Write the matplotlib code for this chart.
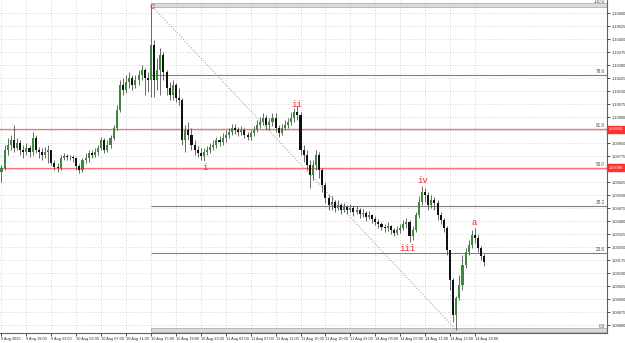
import matplotlib
matplotlib.use('Agg')
import matplotlib.pyplot as plt
from matplotlib.patches import Rectangle

# ---------------- data (EURUSD, 30-minute bars, 9 Aug 15:00 -> 14 Aug 21:30) ----------------
first_open = 1.09683
close = [1.09706, 1.09809, 1.09838, 1.09867, 1.09821, 1.09850, 1.09809, 1.09798, 1.09821, 1.09798,
         1.09879, 1.09809, 1.09798, 1.09781, 1.09798, 1.09809, 1.09734, 1.09711, 1.09706, 1.09763,
         1.09775, 1.09769, 1.09769, 1.09763, 1.09717, 1.09694, 1.09752, 1.09763, 1.09792, 1.09781,
         1.09798, 1.09821, 1.09867, 1.09809, 1.09838, 1.09879, 1.09936, 1.10040, 1.10185, 1.10156,
         1.10202, 1.10225, 1.10185, 1.10213, 1.10242, 1.10271, 1.10225, 1.10213, 1.10415, 1.10213,
         1.10271, 1.10358, 1.10260, 1.10167, 1.10127, 1.10185, 1.10110, 1.10098, 1.09867, 1.09925,
         1.09896, 1.09838, 1.09809, 1.09792, 1.09775, 1.09798, 1.09809, 1.09827, 1.09838, 1.09867,
         1.09856, 1.09879, 1.09896, 1.09913, 1.09936, 1.09925, 1.09913, 1.09925, 1.09896, 1.09885,
         1.09908, 1.09925, 1.09954, 1.09971, 1.09994, 1.09954, 1.09971, 1.09994, 1.09936, 1.09908,
         1.09936, 1.09954, 1.09971, 1.09994, 1.10029, 1.10011, 1.09809, 1.09781, 1.09723, 1.09665,
         1.09723, 1.09781, 1.09694, 1.09608, 1.09533, 1.09492, 1.09509, 1.09475, 1.09492, 1.09463,
         1.09481, 1.09463, 1.09475, 1.09452, 1.09463, 1.09440, 1.09446, 1.09423, 1.09434, 1.09411,
         1.09394, 1.09383, 1.09365, 1.09359, 1.09371, 1.09348, 1.09331, 1.09348, 1.09359, 1.09383,
         1.09394, 1.09313, 1.09348, 1.09434, 1.09509, 1.09567, 1.09550, 1.09492, 1.09521, 1.09504,
         1.09434, 1.09406, 1.09359, 1.09232, 1.09059, 1.08857, 1.08956, 1.09031, 1.09146, 1.09221,
         1.09261, 1.09319, 1.09302, 1.09244, 1.09198, 1.09163]
high = [1.09723, 1.09838, 1.09879, 1.09896, 1.09954, 1.09879, 1.09867, 1.09838, 1.09850, 1.09838,
        1.09913, 1.09896, 1.09827, 1.09821, 1.09827, 1.09838, 1.09809, 1.09752, 1.09734, 1.09781,
        1.09792, 1.09786, 1.09781, 1.09781, 1.09769, 1.09729, 1.09763, 1.09792, 1.09809, 1.09809,
        1.09821, 1.09838, 1.09885, 1.09879, 1.09867, 1.09896, 1.09954, 1.10069, 1.10213, 1.10225,
        1.10242, 1.10260, 1.10242, 1.10242, 1.10271, 1.10300, 1.10283, 1.10260, 1.10646, 1.10444,
        1.10340, 1.10398, 1.10375, 1.10271, 1.10202, 1.10213, 1.10196, 1.10167, 1.10110, 1.09954,
        1.09971, 1.09936, 1.09867, 1.09833, 1.09821, 1.09821, 1.09833, 1.09850, 1.09867, 1.09885,
        1.09890, 1.09908, 1.09925, 1.09936, 1.09960, 1.09960, 1.09942, 1.09948, 1.09936, 1.09913,
        1.09925, 1.09948, 1.09983, 1.10000, 1.10023, 1.10011, 1.09994, 1.10023, 1.10023, 1.09954,
        1.09960, 1.09983, 1.09994, 1.10029, 1.10052, 1.10063, 1.10029, 1.09838, 1.09809, 1.09752,
        1.09752, 1.09809, 1.09798, 1.09706, 1.09625, 1.09550, 1.09544, 1.09521, 1.09521, 1.09504,
        1.09504, 1.09492, 1.09498, 1.09486, 1.09486, 1.09475, 1.09469, 1.09458, 1.09458, 1.09440,
        1.09429, 1.09411, 1.09394, 1.09383, 1.09394, 1.09377, 1.09359, 1.09371, 1.09383, 1.09406,
        1.09417, 1.09406, 1.09371, 1.09452, 1.09544, 1.09602, 1.09590, 1.09567, 1.09550, 1.09538,
        1.09521, 1.09452, 1.09417, 1.09371, 1.09232, 1.09071, 1.08967, 1.09088, 1.09204, 1.09244,
        1.09290, 1.09348, 1.09359, 1.09319, 1.09256, 1.09209]
low = [1.09625, 1.09694, 1.09781, 1.09809, 1.09798, 1.09809, 1.09781, 1.09763, 1.09781, 1.09769,
       1.09781, 1.09792, 1.09763, 1.09752, 1.09763, 1.09734, 1.09723, 1.09694, 1.09683, 1.09694,
       1.09752, 1.09752, 1.09752, 1.09740, 1.09694, 1.09677, 1.09683, 1.09734, 1.09740, 1.09763,
       1.09769, 1.09781, 1.09809, 1.09792, 1.09798, 1.09821, 1.09867, 1.09925, 1.10029, 1.10127,
       1.10138, 1.10167, 1.10156, 1.10167, 1.10185, 1.10213, 1.10127, 1.10144, 1.10115, 1.10115,
       1.10156, 1.10127, 1.10213, 1.10127, 1.10098, 1.10098, 1.10086, 1.10069, 1.09838, 1.09798,
       1.09867, 1.09809, 1.09781, 1.09769, 1.09752, 1.09746, 1.09781, 1.09792, 1.09809, 1.09821,
       1.09833, 1.09838, 1.09856, 1.09879, 1.09896, 1.09902, 1.09890, 1.09896, 1.09879, 1.09867,
       1.09867, 1.09890, 1.09913, 1.09936, 1.09954, 1.09925, 1.09925, 1.09948, 1.09913, 1.09885,
       1.09896, 1.09925, 1.09936, 1.09954, 1.09971, 1.09983, 1.09781, 1.09740, 1.09694, 1.09590,
       1.09636, 1.09694, 1.09648, 1.09567, 1.09504, 1.09463, 1.09463, 1.09452, 1.09463, 1.09440,
       1.09452, 1.09440, 1.09452, 1.09429, 1.09440, 1.09417, 1.09423, 1.09400, 1.09411, 1.09388,
       1.09377, 1.09359, 1.09348, 1.09336, 1.09342, 1.09325, 1.09313, 1.09319, 1.09331, 1.09348,
       1.09359, 1.09279, 1.09290, 1.09336, 1.09417, 1.09492, 1.09509, 1.09463, 1.09475, 1.09463,
       1.09406, 1.09383, 1.09336, 1.09204, 1.09002, 1.08817, 1.08771, 1.08944, 1.09002, 1.09129,
       1.09204, 1.09244, 1.09273, 1.09221, 1.09175, 1.09140]

time_labels = ["9 Aug 2023", "9 Aug 19:00", "9 Aug 23:00", "10 Aug 03:00", "10 Aug 07:00",
               "10 Aug 11:00", "10 Aug 15:00", "10 Aug 19:00", "10 Aug 23:00", "11 Aug 03:00",
               "11 Aug 07:00", "11 Aug 11:00", "11 Aug 15:00", "11 Aug 19:00", "11 Aug 23:00",
               "14 Aug 03:00", "14 Aug 07:00", "14 Aug 11:00", "14 Aug 15:00", "14 Aug 19:00"]
bars_per_label = 8

# Fibonacci retracement anchors (bar index, price)
fib_start_bar, fib_high = 48, 1.10646
fib_end_bar, fib_low = 146, 1.08771
fib_ratios = [0.0, 0.236, 0.382, 0.5, 0.618, 0.786, 1.0]
fib_names = ["0.0", "23.6", "38.2", "50.0", "61.8", "78.6", "100.0"]
red_ratios = [0.618, 0.5]

# Elliott wave labels (text, bar index, price)
wave_labels = [("c", 48.3, 1.10640), ("i", 65.3, 1.09711), ("ii", 94.9, 1.10075),
               ("iii", 130.2, 1.09244), ("iv", 135.3, 1.09631), ("a", 151.7, 1.09394)]

# price axis labels
price_top_label = 1.10600
price_step = 0.00075
n_price_labels = 25

# ---------------- drawing ----------------
W, H = 625, 343
FONT = 'Liberation Sans'
fig = plt.figure(figsize=(W / 100, H / 100), dpi=100)
fig.patch.set_facecolor('white')
ax = fig.add_axes([0, 10 / H, 607 / W, 333 / H])
ax.set_facecolor('white')

n = len(close)
opens = [first_open] + close[:-1]
xs = list(range(n))

right_edge = 194.4
ax.set_xlim(-0.48, right_edge)
ax.set_ylim(1.08754, 1.10675)

rng = fib_high - fib_low
tag_levels = [fib_low + r * rng for r in red_ratios]

# grid / ticks (labels hidden where a red price tag covers them)
yt = [price_top_label - k * price_step for k in range(n_price_labels)]
xt = [k * bars_per_label for k in range(len(time_labels))]
ax.set_yticks(yt)
ylabels = []
for v in yt:
    covered = any(abs(v - t) < 0.0002 for t in tag_levels)
    ylabels.append("" if covered else f"{v:.5f}")
ax.set_yticklabels(ylabels, family=FONT)
ax.set_xticks(xt)
ax.set_xticklabels(time_labels, ha='left', family=FONT)
ax.grid(True, color='#c8c8c8', linestyle=(0, (1, 2)), linewidth=0.6)
ax.set_axisbelow(True)
ax.yaxis.tick_right()
ax.tick_params(axis='y', length=2.5, width=0.6, labelsize=2.9, pad=0.8, colors='#303030')
ax.tick_params(axis='x', length=2.5, width=0.6, labelsize=2.8, pad=0.6, colors='#303030')
for lab in ax.get_xticklabels():
    lab.set_horizontalalignment('left')
for s in ['left', 'top']:
    ax.spines[s].set_visible(False)
for s in ['right', 'bottom']:
    ax.spines[s].set_color('#606060')
    ax.spines[s].set_linewidth(0.8)

# fib levels
for r, name in zip(fib_ratios, fib_names):
    lvl = fib_low + r * rng
    if r in (0.0, 1.0):
        ax.add_patch(Rectangle((fib_start_bar, lvl - 0.00012), right_edge - fib_start_bar, 0.00024,
                               facecolor='#dadada', edgecolor='#b0b0b0', linewidth=0.6, zorder=2))
    else:
        ax.hlines(lvl, fib_start_bar, right_edge, color='#808080', linewidth=0.8, zorder=2)
    ax.text(right_edge - 0.6, lvl + 0.00006, name, fontsize=3.3, color='#505050', family=FONT,
            ha='right', va='bottom', zorder=6)

# red horizontal lines + price tags
for lvl in tag_levels:
    ax.axhline(lvl, color='#ff7070', linewidth=0.9, zorder=2.5)
    ax.text(1.003, lvl, f"{lvl:.5f}", transform=ax.get_yaxis_transform(), fontsize=2.9,
            color='white', ha='left', va='center', clip_on=False, family=FONT,
            bbox=dict(boxstyle='square,pad=0.35', facecolor='#ff3030', edgecolor='#ff3030'))

# fib diagonal
ax.plot([fib_start_bar, fib_end_bar], [fib_high, fib_low], color='#909090',
        linestyle=(0, (1, 2)), linewidth=0.7, zorder=2)

# candles
for i in xs:
    o, h, l, c = opens[i], high[i], low[i], close[i]
    ax.vlines(i, l, h, color='#505050', linewidth=0.6, zorder=3)
    col = '#3a8a3a' if c >= o else '#111111'
    bot = min(o, c)
    hgt = max(abs(c - o), 0.00003)
    ax.add_patch(Rectangle((i - 0.33, bot), 0.66, hgt, facecolor=col, edgecolor='none', zorder=4))

# wave labels
for txt, bx, py in wave_labels:
    ax.text(bx, py, txt, fontsize=6.5, color='#e83030', family='Liberation Mono',
            ha='center', va='center', zorder=7)

fig.savefig('out.png', dpi=100, facecolor='white')
